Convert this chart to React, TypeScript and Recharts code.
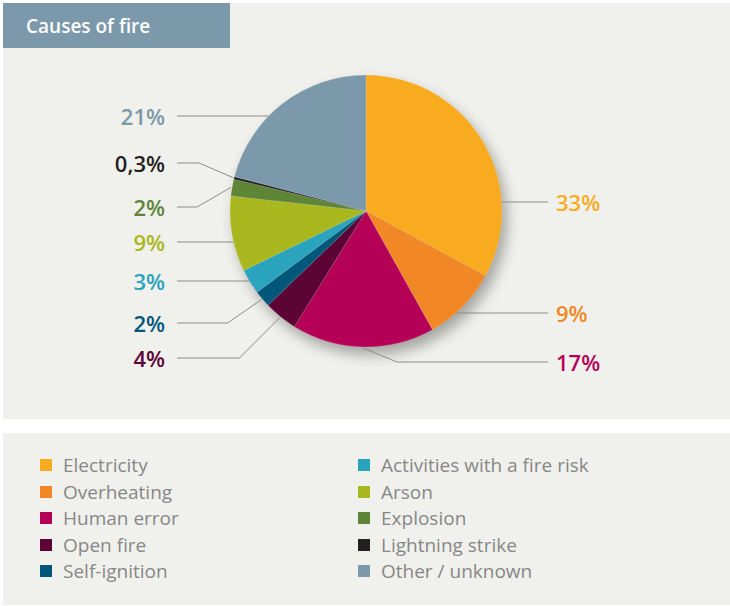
import React from "react";
import { PieChart, Pie, Cell, Legend } from "recharts";

const CATEGORIES = [
  "Electricity",
  "Overheating",
  "Human error",
  "Open fire",
  "Self-ignition",
  "Activities with a fire risk",
  "Arson",
  "Explosion",
  "Lightning strike",
  "Other / unknown",
];
const VALUES = [33, 9, 17, 4, 2, 3, 9, 2, 0.3, 21];
const COLORS = [
  "#f8ab1f",
  "#f18825",
  "#b50058",
  "#5d0436",
  "#00577a",
  "#2aa3bd",
  "#aab820",
  "#5f8537",
  "#231f20",
  "#7b99aa",
];
// label placement (layout only): side and vertical offset from pie centre
const LABEL_SIDE = ["R", "R", "R", "L", "L", "L", "L", "L", "L", "L"];
const LABEL_DY = [-9, 102, 151, 147, 112, 70, 31, -4, -48, -95];

const data = CATEGORIES.map((name, i) => ({ name, value: VALUES[i] }));
const shadowData = [{ name: "shadow", value: 1 }];

const RAD = Math.PI / 180;
const FONT = "'Open Sans', 'Noto Sans', sans-serif";

const fmt = (v: number) => String(v).replace(".", ",") + "%";

const renderLabel = (props: any) => {
  const { cx, cy, outerRadius, midAngle, startAngle, endAngle, index } = props;
  const r = outerRadius;
  const side = LABEL_SIDE[index];
  const ly = cy + LABEL_DY[index];
  const dy = LABEL_DY[index];
  const color = COLORS[index];
  const lineEnd = side === "L" ? cx - 189 : cx + 182;
  const textX = side === "L" ? cx - 201 : cx + 190;
  let points: string;
  let hits = false;
  let hx = 0;
  if (Math.abs(dy) < r) {
    const a = side === "L" ? -180 + Math.asin(dy / r) / RAD : -Math.asin(dy / r) / RAD;
    const lo = Math.min(startAngle, endAngle);
    const hi = Math.max(startAngle, endAngle);
    if (a >= lo && a <= hi) {
      hits = true;
      hx = cx + r * Math.cos(a * RAD);
    }
  }
  if (hits) {
    points = `${lineEnd},${ly} ${hx},${ly}`;
  } else {
    const sx = cx + (r + 1) * Math.cos(-midAngle * RAD);
    const sy = cy + (r + 1) * Math.sin(-midAngle * RAD);
    const off = Math.max(34, Math.abs(ly - sy));
    const ex = side === "L" ? sx - off : sx + off;
    points = `${lineEnd},${ly} ${ex},${ly} ${sx},${sy}`;
  }
  return (
    <g key={`lbl-${index}`}>
      <polyline points={points} fill="none" stroke="#8c8c8c" strokeWidth={1} />
      <text
        x={textX}
        y={ly}
        textAnchor={side === "L" ? "end" : "start"}
        dominantBaseline="central"
        fill={color}
        style={{ fontFamily: FONT, fontSize: 22, fontWeight: 600 }}
      >
        {fmt(VALUES[index])}
      </text>
    </g>
  );
};

const LegendContent = () => {
  const col = (from: number, to: number, left: number) => (
    <div style={{ position: "absolute", left, top: 19 }}>
      {CATEGORIES.slice(from, to).map((name, k) => (
        <div
          key={name}
          style={{ display: "flex", alignItems: "center", height: 26.5 }}
        >
          <div
            style={{
              width: 12,
              height: 12,
              background: COLORS[from + k],
              marginRight: 11,
            }}
          />
          <span
            style={{
              fontFamily: FONT,
              fontSize: 19,
              color: "#878787",
              whiteSpace: "nowrap",
              lineHeight: "26px",
            }}
          >
            {name}
          </span>
        </div>
      ))}
    </div>
  );
  return (
    <div style={{ position: "relative", width: 727, height: 172 }}>
      {col(0, 5, 37)}
      {col(5, 10, 355)}
    </div>
  );
};

export default function App() {
  return (
    <div
      style={{
        position: "absolute",
        left: 0,
        top: 0,
        width: 730,
        height: 606,
        background: "#ffffff",
        overflow: "hidden",
      }}
    >
      <svg width={0} height={0} style={{ position: "absolute" }}>
        <defs>
          <filter id="pieShadow" x="-30%" y="-30%" width="160%" height="160%">
            <feOffset dx={5} dy={8} />
            <feGaussianBlur stdDeviation={7} />
          </filter>
        </defs>
      </svg>
      <div
        style={{
          position: "absolute",
          left: 3,
          top: 3,
          width: 727,
          height: 416,
          background: "#f0f0ec",
        }}
      />
      <div
        style={{
          position: "absolute",
          left: 3,
          top: 433,
          width: 727,
          height: 172,
          background: "#f0f0ec",
        }}
      />
      <div
        style={{
          position: "absolute",
          left: 3,
          top: 3,
          width: 227,
          height: 45,
          background: "#7b99aa",
          display: "flex",
          alignItems: "center",
        }}
      >
        <span
          style={{
            marginLeft: 23,
            color: "#ffffff",
            fontFamily: FONT,
            fontSize: 19,
            fontWeight: 600,
          }}
        >
          Causes of fire
        </span>
      </div>
      <div style={{ position: "absolute", left: 0, top: 0 }}>
        <PieChart
          width={730}
          height={606}
          margin={{ top: 0, right: 0, bottom: 0, left: 0 }}
        >
          <Pie
            data={shadowData}
            dataKey="value"
            cx={366}
            cy={211}
            outerRadius={136}
            startAngle={90}
            endAngle={-270}
            isAnimationActive={false}
            stroke="none"
            legendType="none"
          >
            <Cell fill="rgba(0,0,0,0.32)" filter="url(#pieShadow)" />
          </Pie>
          <Pie
            data={data}
            dataKey="value"
            nameKey="name"
            cx={366}
            cy={211}
            outerRadius={136}
            startAngle={90}
            endAngle={-270}
            isAnimationActive={false}
            stroke="rgba(255,255,255,0.25)"
            strokeWidth={0.5}
            labelLine={false}
            label={renderLabel}
          >
            {data.map((d, i) => (
              <Cell key={d.name} fill={COLORS[i]} />
            ))}
          </Pie>
          <Legend
            content={() => <LegendContent />}
            wrapperStyle={{
              position: "absolute",
              left: 3,
              top: 433,
              bottom: "auto",
              width: 727,
              height: 172,
              margin: 0,
            }}
          />
        </PieChart>
      </div>
    </div>
  );
}
